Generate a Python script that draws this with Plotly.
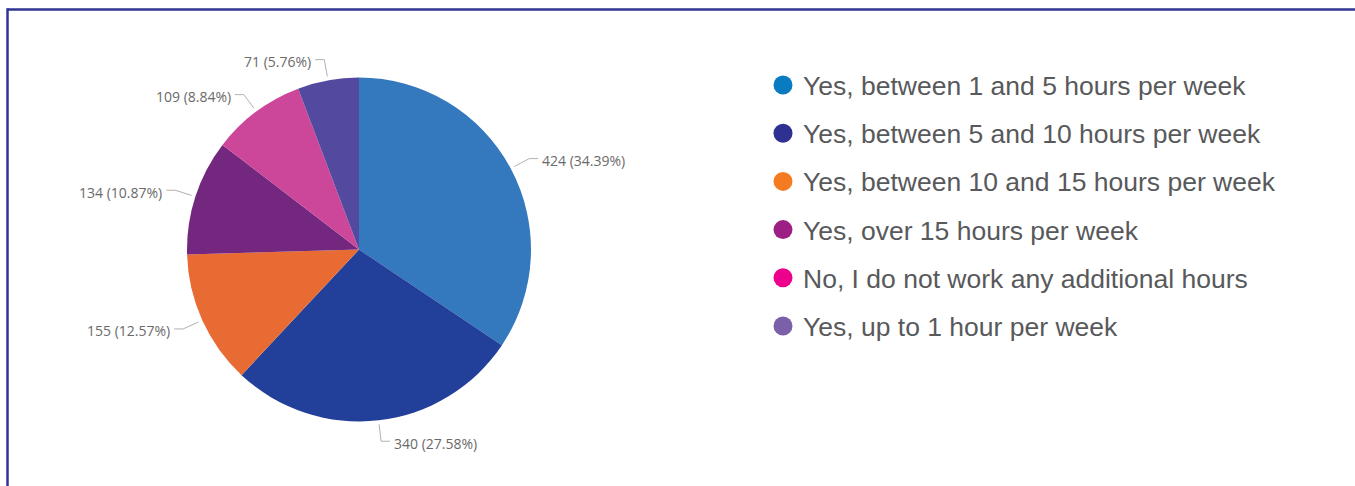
import math
import plotly.graph_objects as go

# Survey answers: additional hours worked per week
categories = [
    "Yes, between 1 and 5 hours per week",
    "Yes, between 5 and 10 hours per week",
    "Yes, between 10 and 15 hours per week",
    "Yes, over 15 hours per week",
    "No, I do not work any additional hours",
    "Yes, up to 1 hour per week",
]
counts = [424, 340, 155, 134, 109, 71]

slice_colors = ["#3478BE", "#22409A", "#E86B33", "#74277F", "#CC4699", "#534AA0"]
legend_colors = ["#0B7BC1", "#2E3192", "#F47B20", "#9D1F83", "#EC008C", "#7B5FA8"]

W, H = 1355, 486
cx, cy, r = 359.0, 249.5, 172.0

fig = go.Figure()

# pixel-space helper axes (hidden) for leader lines and the legend
fig.update_layout(
    xaxis=dict(range=[0, W], visible=False, showline=False, zeroline=False,
               showgrid=False, fixedrange=True, domain=[0, 1]),
    yaxis=dict(range=[H, 0], visible=False, showline=False, zeroline=False,
               showgrid=False, fixedrange=True, domain=[0, 1]),
)

fig.add_trace(go.Pie(
    values=counts,
    labels=categories,
    sort=False,
    direction="clockwise",
    rotation=0,
    marker=dict(colors=slice_colors, line=dict(width=0)),
    textinfo="none",
    hoverinfo="label+value+percent",
    showlegend=False,
    domain=dict(x=[(cx - r) / W, (cx + r) / W], y=[1 - (cy + r) / H, 1 - (cy - r) / H]),
))

# outside labels with elbow leader lines, placed at each slice's mid-angle
total = sum(counts)
cum = 0
annotations = []
r_start, r_elbow, seg, gap = r + 4, r + 21, 9, 2
for v in counts:
    mid = (cum + v / 2) / total
    cum += v
    ang = 2 * math.pi * mid
    sx, sy = cx + r_start * math.sin(ang), cy - r_start * math.cos(ang)
    ex, ey = cx + r_elbow * math.sin(ang), cy - r_elbow * math.cos(ang)
    side = 1 if math.sin(ang) >= 0 else -1
    hx = ex + side * seg
    fig.add_trace(go.Scatter(
        x=[sx, ex, hx], y=[sy, ey, ey], mode="lines",
        line=dict(color="#B3B0AD", width=1), hoverinfo="skip", showlegend=False,
    ))
    pct = 100 * v / total
    annotations.append(dict(
        x=hx + side * gap, y=ey + 2, xref="x", yref="y",
        text=f"{v} ({pct:.2f}%)", showarrow=False,
        xanchor="left" if side > 0 else "right", yanchor="middle",
        font=dict(family="Open Sans, Noto Sans, sans-serif", size=14, color="#6A6A6A"),
    ))

# legend on the right
shapes = []
leg_x, leg_y0, leg_dy = 783, 85, 48.2
for i, (name, col) in enumerate(zip(categories, legend_colors)):
    yy = leg_y0 + i * leg_dy
    shapes.append(dict(
        type="circle", xref="x", yref="y",
        x0=leg_x - 9.5, x1=leg_x + 9.5, y0=yy - 9.5, y1=yy + 9.5,
        fillcolor=col, line=dict(width=0),
    ))
    annotations.append(dict(
        x=leg_x + 18, y=yy + 1, xref="x", yref="y", text=name, showarrow=False,
        xanchor="left", yanchor="middle",
        font=dict(family="Liberation Sans, Arial, sans-serif", size=26.5, color="#58595B"),
    ))

# frame: top and left edges of the panel
frame = dict(color="#2E3593", width=2.5)
shapes.append(dict(type="line", xref="paper", yref="paper", x0=7.5 / W, x1=1.0,
                   y0=1 - 9.5 / H, y1=1 - 9.5 / H, line=frame, layer="above"))
shapes.append(dict(type="line", xref="paper", yref="paper", x0=7.5 / W, x1=7.5 / W,
                   y0=0, y1=1 - 8.3 / H, line=frame, layer="above"))

fig.update_layout(
    width=W, height=H,
    margin=dict(l=0, r=0, t=0, b=0),
    paper_bgcolor="white", plot_bgcolor="white",
    showlegend=False,
    annotations=annotations,
    shapes=shapes,
)

fig.write_html("out.html", config={"displayModeBar": False})
